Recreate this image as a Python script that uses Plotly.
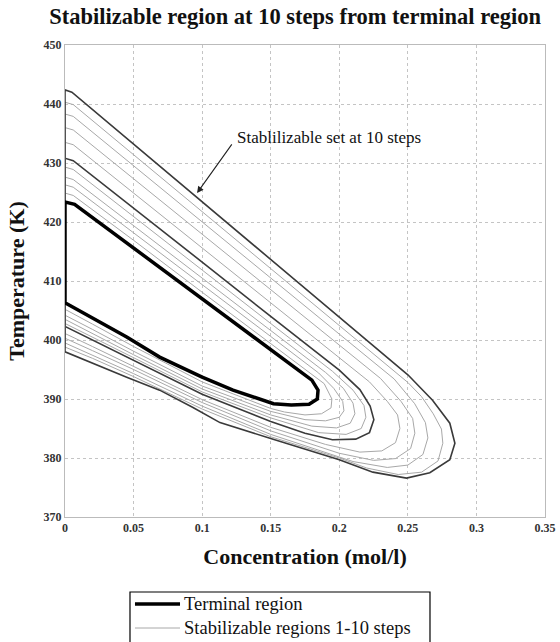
import plotly.graph_objects as go

# ---- data: concentration (mol/l) / temperature (K) of each region boundary ----
term_c = [0, 0, 0.007, 0.05, 0.1, 0.15, 0.171, 0.18, 0.1845, 0.184, 0.178, 0.165, 0.152, 0.1225, 0.1, 0.069, 0.045, 0.02, 0]
term_t = [406.3, 423.4, 423.0, 415.6, 407.0, 398.4, 394.9, 393.2, 391.5, 390.0, 389.1, 389.0, 389.2, 391.5, 393.7, 397.1, 400.5, 403.7, 406.3]

s1_c = [0, 0, 0.006, 0.05, 0.1, 0.15, 0.18, 0.189, 0.1946, 0.194, 0.187, 0.175, 0.16, 0.15, 0.1, 0.05, 0.02, 0]
s1_t = [405.2, 424.9, 424.5, 416.9, 408.1, 399.4, 394.2, 392.6, 390.0, 388.5, 387.5, 387.3, 387.8, 388.4, 392.9, 398.9, 402.7, 405.2]

s2_c = [0, 0, 0.006, 0.05, 0.1, 0.15, 0.185, 0.196, 0.2025, 0.2034, 0.2, 0.19, 0.175, 0.15, 0.1, 0.05, 0.02, 0]
s2_t = [404.2, 426.3, 425.9, 418.2, 409.4, 400.6, 394.4, 391.8, 389.6, 388.0, 386.9, 386.3, 386.5, 387.9, 392.2, 398.1, 401.8, 404.2]

s3_c = [0, 0, 0.006, 0.05, 0.1, 0.15, 0.19, 0.203, 0.21, 0.2114, 0.208, 0.198, 0.18, 0.15, 0.1, 0.05, 0.02, 0]
s3_t = [403.5, 427.6, 427.2, 419.4, 410.5, 401.6, 394.5, 391.8, 389.3, 387.5, 385.9, 385.1, 385.4, 387.3, 391.7, 397.5, 401.1, 403.5]

s4_c = [0, 0, 0.006, 0.05, 0.1, 0.15, 0.195, 0.21, 0.218, 0.2194, 0.216, 0.205, 0.185, 0.15, 0.1, 0.05, 0.02, 0]
s4_t = [402.8, 429.3, 428.9, 420.9, 411.9, 402.8, 394.7, 391.5, 388.9, 386.9, 385.0, 384.0, 384.3, 386.8, 391.2, 397.0, 400.5, 402.8]

s5_c = [0, 0, 0.006, 0.05, 0.1, 0.15, 0.2, 0.215, 0.2225, 0.2252, 0.222, 0.212, 0.195, 0.175, 0.15, 0.1, 0.05, 0.02, 0]
s5_t = [402.3, 430.8, 430.4, 422.4, 413.2, 404.0, 394.9, 391.6, 388.8, 386.5, 384.3, 383.2, 383.1, 384.2, 386.2, 390.8, 396.6, 400.1, 402.3]

s6_c = [0, 0, 0.006, 0.05, 0.1, 0.15, 0.2, 0.222, 0.235, 0.2425, 0.2442, 0.241, 0.231, 0.215, 0.19, 0.15, 0.1, 0.05, 0.02, 0]
s6_t = [401.1, 433.5, 433.1, 424.9, 415.6, 406.3, 397.0, 392.9, 389.6, 387.3, 385.0, 382.6, 381.2, 381.0, 382.3, 385.2, 389.9, 395.6, 398.9, 401.1]

s7_c = [0, 0, 0.006, 0.05, 0.1, 0.15, 0.2, 0.23, 0.245, 0.2535, 0.2551, 0.252, 0.241, 0.225, 0.2, 0.15, 0.1, 0.05, 0.02, 0]
s7_t = [400.3, 436.0, 435.6, 427.3, 417.9, 408.5, 399.1, 393.5, 389.6, 386.7, 384.2, 381.6, 379.9, 379.6, 380.8, 384.6, 389.4, 395.0, 398.2, 400.3]

s8_c = [0, 0, 0.006, 0.05, 0.1, 0.15, 0.2, 0.24, 0.255, 0.2628, 0.2646, 0.261, 0.25, 0.235, 0.21, 0.15, 0.1, 0.05, 0.02, 0]
s8_t = [399.5, 438.3, 437.9, 429.5, 420.0, 410.5, 401.0, 393.4, 389.2, 386.0, 383.4, 380.6, 378.8, 378.4, 379.4, 384.0, 388.8, 394.3, 397.5, 399.5]

s9_c = [0, 0, 0.006, 0.05, 0.1, 0.15, 0.2, 0.25, 0.26, 0.2685, 0.2745, 0.2755, 0.272, 0.26, 0.243, 0.22, 0.2, 0.15, 0.1, 0.05, 0.02, 0]
s9_t = [398.8, 440.3, 439.9, 431.4, 421.8, 412.1, 402.5, 392.8, 390.4, 387.5, 384.9, 382.5, 379.5, 377.6, 377.2, 378.3, 380.0, 383.6, 388.3, 393.8, 396.9, 398.8]

s10_c = [0, 0, 0.005, 0.05, 0.1, 0.15, 0.2, 0.25, 0.268, 0.2806, 0.2843, 0.2806, 0.266, 0.249, 0.2245, 0.2, 0.15, 0.113, 0.093, 0.069, 0.045, 0.02, 0]
s10_t = [398.0, 442.4, 442.0, 433.2, 423.5, 413.7, 404.0, 394.1, 389.8, 385.9, 382.5, 379.7, 377.5, 376.6, 377.6, 379.7, 383.3, 386.0, 388.6, 391.5, 393.7, 396.1, 398.0]

x_ticks = [0, 0.05, 0.1, 0.15, 0.2, 0.25, 0.3, 0.35]
x_labels = ["0", "0.05", "0.1", "0.15", "0.2", "0.25", "0.3", "0.35"]
y_ticks = [370, 380, 390, 400, 410, 420, 430, 440, 450]
legend_labels = ["Terminal region", "Stabilizable regions 1-10 steps"]

steps = [
    (s1_c, s1_t), (s2_c, s2_t), (s3_c, s3_t), (s4_c, s4_t), (s5_c, s5_t),
    (s6_c, s6_t), (s7_c, s7_t), (s8_c, s8_t), (s9_c, s9_t), (s10_c, s10_t),
]

SERIF = "Liberation Serif, Times New Roman, serif"
GREY = "#a8a8a8"

fig = go.Figure()
for i, (c, t) in enumerate(steps):
    dark = i in (4, 9)
    fig.add_trace(go.Scatter(
        x=c, y=t, mode="lines",
        line=dict(color="#3a3a3a" if dark else GREY, width=1.6 if dark else 1.0),
        name=legend_labels[1], showlegend=False, hoverinfo="skip",
    ))
fig.add_trace(go.Scatter(
    x=term_c, y=term_t, mode="lines",
    line=dict(color="black", width=3.5),
    name=legend_labels[0], showlegend=False,
))

# arrow + label
fig.add_annotation(
    x=0.0963, y=424.9, ax=0.1224, ay=433.4, axref="x", ayref="y", xref="x", yref="y",
    text="", showarrow=True, arrowhead=2, arrowsize=1.2, arrowwidth=1.1, arrowcolor="#222",
)
fig.add_annotation(
    x=0.1238, y=434.3, xref="x", yref="y", xanchor="left", yanchor="middle",
    text="Stablilizable set at 10 steps", showarrow=False,
    font=dict(family=SERIF, size=17, color="#111"),
)

# legend box drawn below the plot (compact row spacing as in the reference)
fig.add_shape(type="rect", xref="paper", yref="paper",
              x0=0.1354, x1=0.7604, y0=-0.30, y1=-0.1589,
              line=dict(color="black", width=1.2), fillcolor="white", layer="above")
fig.add_shape(type="line", xref="paper", yref="paper",
              x0=0.1458, x1=0.2396, y0=-0.1843, y1=-0.1843,
              line=dict(color="black", width=3.5))
fig.add_shape(type="line", xref="paper", yref="paper",
              x0=0.1458, x1=0.2396, y0=-0.2352, y1=-0.2352,
              line=dict(color=GREY, width=1.0))
for lbl, yy in zip(legend_labels, [-0.1843, -0.2352]):
    fig.add_annotation(x=0.2458, y=yy, xref="paper", yref="paper",
                       xanchor="left", yanchor="middle", showarrow=False, borderpad=0,
                       text=lbl, font=dict(family=SERIF, size=18.5, color="#111"))

fig.update_layout(
    width=560, height=642,
    margin=dict(l=65, r=15, t=45, b=125, autoexpand=False),
    paper_bgcolor="white", plot_bgcolor="white",
    title=dict(
        text="<b>Stabilizable region at 10 steps from terminal region</b>",
        x=0.527, xanchor="center", y=0.975, yanchor="middle",
        font=dict(family=SERIF, size=22.5, color="#111"),
    ),
    font=dict(family=SERIF, color="#111"),
    showlegend=False,
)
fig.update_xaxes(
    range=[0, 0.35], tickvals=x_ticks, ticktext=x_labels,
    showgrid=True, gridcolor="#c4c4c4", griddash="dot", gridwidth=1,
    showline=True, linecolor="#bbbbbb", mirror=True, zeroline=False, ticks="",
    tickfont=dict(family=SERIF, size=12, color="#333", weight="bold"),
    title=dict(text="<b>Concentration (mol/l)</b>", font=dict(family=SERIF, size=22, color="#111"), standoff=14),
)
fig.update_yaxes(
    range=[370, 450], tickvals=y_ticks,
    showgrid=True, gridcolor="#c4c4c4", griddash="dot", gridwidth=1,
    showline=True, linecolor="#bbbbbb", mirror=True, zeroline=False, ticks="",
    tickfont=dict(family=SERIF, size=12, color="#333", weight="bold"),
    title=dict(text="<b>Temperature (K)</b>", font=dict(family=SERIF, size=22, color="#111"), standoff=12),
)

fig.write_html("out.html")
